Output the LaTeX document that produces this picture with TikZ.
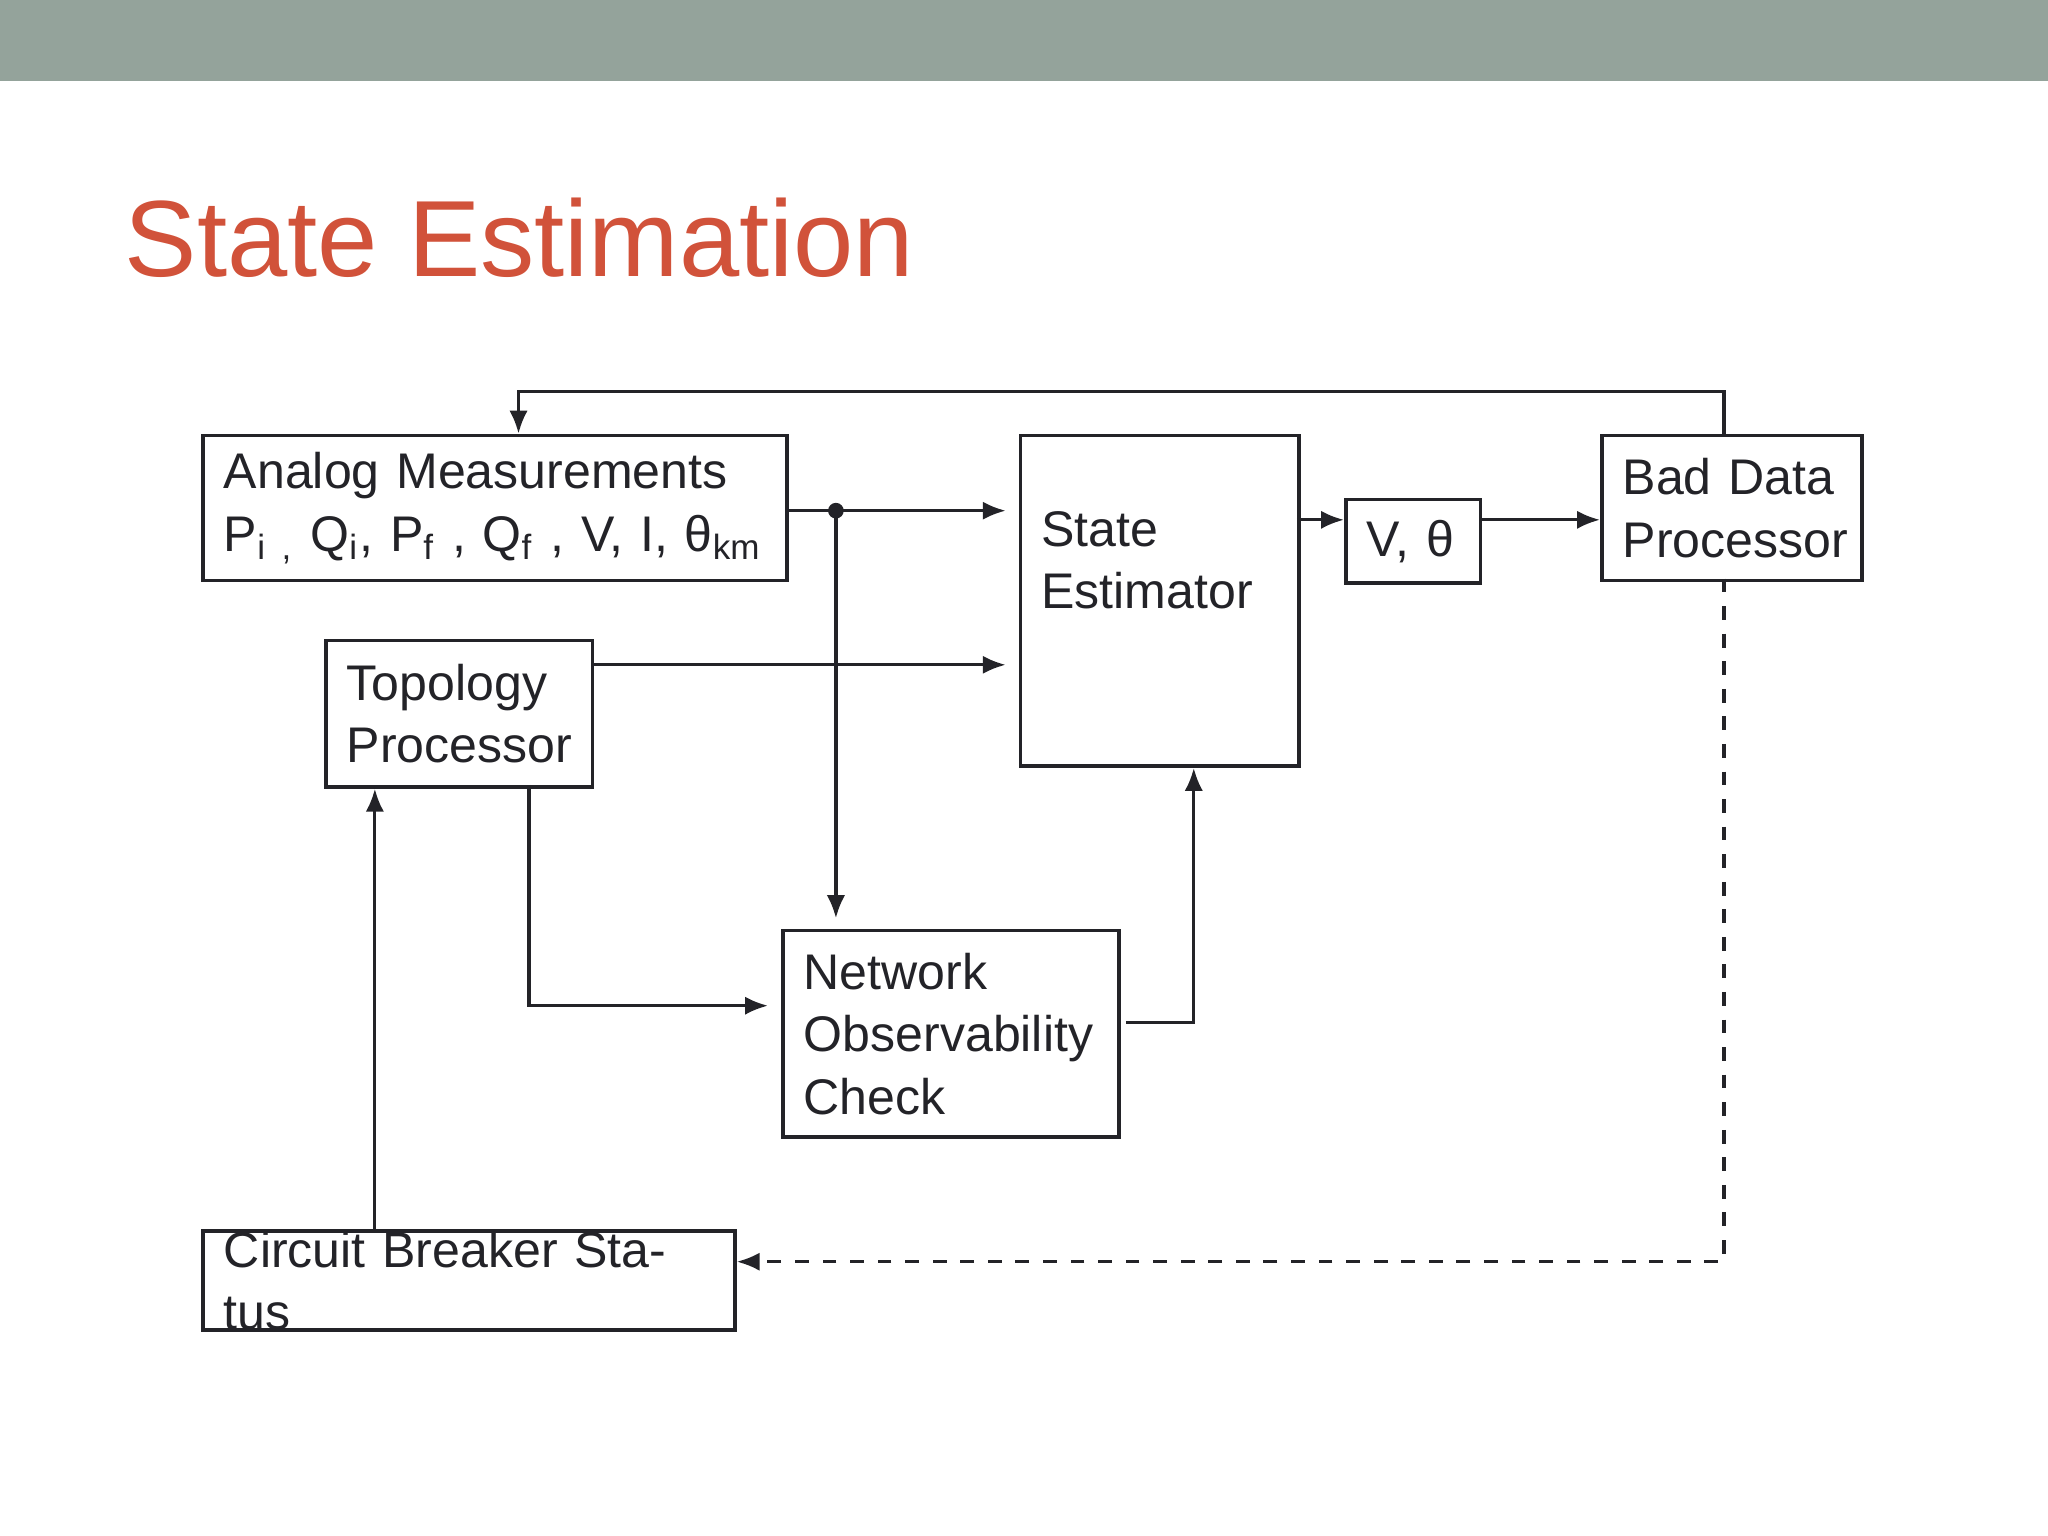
\documentclass[tikz,border=0pt]{standalone}
\usepackage{fontspec}
\setmainfont{Liberation Sans}
\usetikzlibrary{arrows.meta,positioning}
\definecolor{barcol}{RGB}{148,163,155}
\definecolor{titlecol}{RGB}{209,82,58}
\definecolor{ink}{RGB}{35,35,40}

\begin{document}
\begin{tikzpicture}[x=0.01cm,y=-0.01cm,>={Latex[length=5pt,width=4pt]}]
      \tikzstyle{block}=[draw=ink,line width=0.8pt,text=ink,anchor=north west,align=left,inner xsep=0.16cm,inner ysep=0pt,font=\fontsize{10.9}{13.6}\selectfont]
      \tikzstyle{wire}=[draw=ink,line width=0.7pt]

      \useasboundingbox (0,0) rectangle (1568,1176);
      \fill[barcol] (0,0) rectangle (1568,62);
      \node[anchor=base west,text=titlecol,font=\fontsize{23.6}{26}\selectfont,inner sep=0pt] (title) at (95,212) {State Estimation};

      \node[block,minimum width=4.47cm,minimum height=1.11cm,text width=4.15cm] (AM) at (154,332)
        {Analog Measurements\\P\textsubscript{i ,} Q\textsubscript{i}, P\textsubscript{f} , Q\textsubscript{f} , V, I, θ\textsubscript{km}};
      \node[block,minimum width=2.13cm,minimum height=2.53cm,text width=1.81cm] (SE) at (780,332) {State\\Estimator\\\strut};
      \node[block,minimum width=1.03cm,minimum height=0.64cm,text width=0.71cm] (VT) at (1029,381) {V, θ};
      \node[block,minimum width=1.99cm,minimum height=1.11cm,text width=1.67cm] (BD) at (1225,332) {Bad Data\\Processor};
      \node[block,minimum width=2.04cm,minimum height=1.12cm,text width=1.72cm] (TP) at (248,489) {Topology\\Processor};
      \node[block,minimum width=2.57cm,minimum height=1.58cm,text width=2.25cm] (NO) at (598,711) {Network\\Observability\\Check};
      \node[block,minimum width=4.07cm,minimum height=0.64cm,text width=3.75cm] (CB) at (154,941) {Circuit Breaker Status};

      \coordinate (dot) at (640,391);
      \coordinate (SEin1) at (770,391);
      \coordinate (SEin2) at (770,509);
      \fill[ink] (dot) circle (6);

      \draw[wire,->] (BD.north -| 1320,0) -- (1320,300) -- (397,300) -- (397,332);
      \draw[wire] (AM.east |- dot) -- (dot);
      \draw[wire,->] (dot) -- (SEin1);
      \draw[wire,->] (dot) -- (640,703);
      \draw[wire,->] (TP.east |- SEin2) -- (SEin2);
      \draw[wire,->] (405,601) -- (405,770) -- (588,770);
      \draw[wire,->] (862,783) -- (914,783) -- (SE.south -| 914,0);
      \draw[wire,->] (993,398) -- (VT.west |- 0,398);
      \draw[wire,->] (VT.east |- 0,398) -- (BD.west |- 0,398);
      \draw[wire,dashed,->] (1320,443) -- (1320,966) -- (CB.east |- 0,966);
      \draw[wire,->] (CB.north -| 287,0) -- (TP.south -| 287,0);
\end{tikzpicture}
\end{document}
